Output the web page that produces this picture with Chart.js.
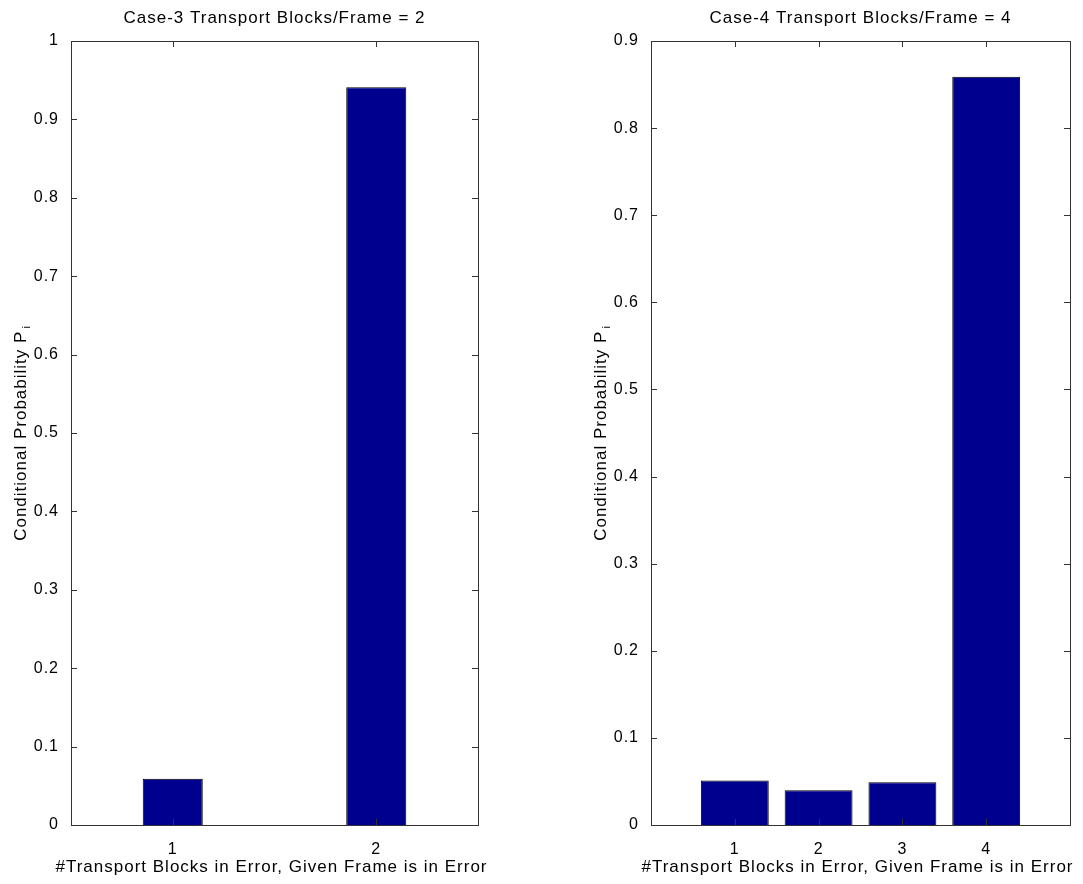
<!DOCTYPE html>
<html>
<head>
<meta charset="utf-8">
<script src="https://cdn.jsdelivr.net/npm/chart.js@4/dist/chart.umd.min.js"></script>
<style>
  html, body { margin: 0; padding: 0; background: #fff; }
  #wrap { position: relative; width: 1083px; height: 884px; }
  .box { position: absolute; top: 0; height: 884px; }
  #b1 { left: 0; width: 540px; }
  #b2 { left: 540px; width: 543px; }
</style>
</head>
<body>
<div id="wrap">
  <div class="box" id="b1"><canvas id="c1"></canvas></div>
  <div class="box" id="b2"><canvas id="c2"></canvas></div>
</div>
<script>
// ---- data ----
const leftTitle = 'Case-3 Transport Blocks/Frame = 2';
const rightTitle = 'Case-4 Transport Blocks/Frame = 4';
const xLabel = '#Transport Blocks in Error, Given Frame is in Error';
const yLabel = 'Conditional Probability P';
const yLabelSub = 'i';

const leftCategories = [1, 2];
const leftValues = [0.059, 0.941];
const rightCategories = [1, 2, 3, 4];
const rightValues = [0.051, 0.040, 0.049, 0.859];

const leftYTicks = [0, 0.1, 0.2, 0.3, 0.4, 0.5, 0.6, 0.7, 0.8, 0.9, 1];
const rightYTicks = [0, 0.1, 0.2, 0.3, 0.4, 0.5, 0.6, 0.7, 0.8, 0.9];

const FONT = "'Liberation Sans', Arial, Helvetica, sans-serif";
const TEXT = '#000';
const BAR = '#00008F';

const matlabPlugin = {
  id: 'matlab',
  beforeDraw(chart) {
    chart.ctx.letterSpacing = '1px';
  },
  afterDraw(chart, args, opts) {
    const ctx = chart.ctx;
    const a = chart.chartArea;
    const xs = chart.scales.x, ys = chart.scales.y;
    ctx.save();
    ctx.letterSpacing = '1px';
    // box
    ctx.strokeStyle = '#333';
    ctx.lineWidth = 1;
    ctx.strokeRect(Math.round(a.left) + 0.5, Math.round(a.top) + 0.5,
                   Math.round(a.right - a.left), Math.round(a.bottom - a.top));
    // inner ticks
    const tl = 6;
    ctx.beginPath();
    ys.ticks.forEach(t => {
      const y = Math.round(ys.getPixelForValue(t.value)) + 0.5;
      ctx.moveTo(a.left, y); ctx.lineTo(a.left + tl, y);
      ctx.moveTo(a.right, y); ctx.lineTo(a.right - tl, y);
    });
    xs.ticks.forEach(t => {
      const x = Math.round(xs.getPixelForValue(t.value)) + 0.5;
      ctx.moveTo(x, a.bottom); ctx.lineTo(x, a.bottom - tl);
      ctx.moveTo(x, a.top); ctx.lineTo(x, a.top + tl);
    });
    ctx.stroke();
    // title
    ctx.fillStyle = TEXT;
    ctx.font = '17px ' + FONT;
    ctx.textAlign = 'center';
    ctx.textBaseline = 'middle';
    const cx = (a.left + a.right) / 2;
    ctx.fillText(opts.title, cx, 18);
    // x label
    ctx.fillText(xLabel, cx - 3, 867);
    // y label with subscript
    ctx.translate(opts.yLabelX, (a.top + a.bottom) / 2);
    ctx.rotate(-Math.PI / 2);
    ctx.font = '17px ' + FONT;
    const w1 = ctx.measureText(yLabel).width;
    ctx.font = '11px ' + FONT;
    const w2 = ctx.measureText(yLabelSub).width;
    const total = w1 + w2 + 2;
    ctx.textAlign = 'left';
    ctx.font = '17px ' + FONT;
    ctx.fillText(yLabel, -total / 2, 0);
    ctx.font = '11px ' + FONT;
    ctx.fillText(yLabelSub, -total / 2 + w1 + 2, 6);
    ctx.restore();
  }
};

function makeChart(id, cats, vals, yTicks, xmin, xmax, ymax, barPct, yAxisWidth, padRight, title, yLabelX) {
  return new Chart(document.getElementById(id), {
    type: 'bar',
    data: {
      datasets: [{
        data: cats.map((c, i) => ({ x: c, y: vals[i] })),
        backgroundColor: BAR,
        borderColor: '#000',
        borderWidth: 1,
        barPercentage: barPct,
        categoryPercentage: 1
      }]
    },
    options: {
      responsive: true,
      maintainAspectRatio: false,
      animation: false,
      layout: { padding: { top: 41, right: padRight, bottom: 0, left: 0 } },
      plugins: {
        legend: { display: false },
        tooltip: { enabled: false },
        matlab: { title: title, yLabelX: yLabelX }
      },
      scales: {
        x: {
          type: 'linear',
          min: xmin, max: xmax,
          offset: false,
          grid: { display: false, offset: false },
          border: { display: false },
          afterBuildTicks: s => { s.ticks = cats.map(v => ({ value: v })); },
          afterFit: s => { s.height = 59; },
          ticks: {
            padding: 7,
            color: TEXT,
            font: { family: FONT, size: 16 },
            maxRotation: 0,
            autoSkip: false,
            callback: v => String(v)
          }
        },
        y: {
          min: 0, max: ymax,
          grid: { display: false },
          border: { display: false },
          afterBuildTicks: s => { s.ticks = yTicks.map(v => ({ value: v })); },
          afterFit: s => { s.width = yAxisWidth; },
          ticks: {
            padding: 4,
            color: TEXT,
            font: { family: FONT, size: 16 },
            autoSkip: false,
            callback: v => String(Math.round(v * 10) / 10)
          }
        }
      }
    },
    plugins: [matlabPlugin]
  });
}

makeChart('c1', leftCategories, leftValues, leftYTicks, 0.5, 2.5, 1, 0.295, 71, 62, leftTitle, 21);
makeChart('c2', rightCategories, rightValues, rightYTicks, 0, 5, 0.9, 0.81, 111, 13, rightTitle, 61);
</script>
</body>
</html>
